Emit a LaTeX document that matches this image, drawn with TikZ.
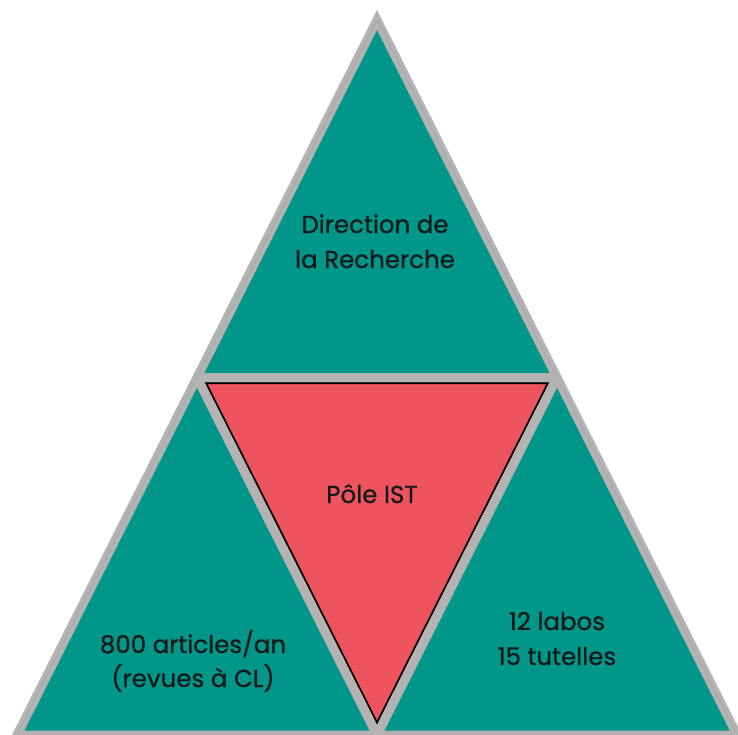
\documentclass[tikz,border=0pt]{standalone}
\usepackage{fontspec}
\setmainfont{Poppins}[FakeBold=0.8]
\definecolor{tealA}{HTML}{00968A}
\definecolor{redA}{HTML}{EE5360}
\definecolor{grayA}{HTML}{B4B2B3}
\definecolor{inkA}{HTML}{141A1A}
\begin{document}
\begin{tikzpicture}[x=1pt,y=-1pt,line join=miter,
  lbl/.style={font=\fontsize{24.5}{28}\selectfont,text=inkA,anchor=base,inner sep=0pt},
  edge/.style={draw=grayA,line width=9pt}]
\useasboundingbox (0,0) rectangle (738,734);
\coordinate (A) at (377,20);
\coordinate (B) at (17,735);
\coordinate (C) at (737,735);
\coordinate (AB) at (197,377.5);
\coordinate (AC) at (557,377.5);
\coordinate (BC) at (377,735);
\draw[grayA,line width=9pt,fill=grayA] (A)--(B)--(C)--cycle;
\fill[tealA] (A)--(AB)--(AC)--cycle;
\fill[tealA] (AB)--(B)--(BC)--cycle;
\fill[tealA] (AC)--(BC)--(C)--cycle;
\fill[redA] (AB)--(AC)--(BC)--cycle;
\begin{scope}
\clip (AB)--(AC)--(BC)--cycle;
\draw[black,line width=13pt] (AB)--(AC)--(BC)--cycle;
\end{scope}
\begin{scope}
\clip (A)--(B)--(C)--cycle;
\path[edge] (A)--(AB)--(AC)--cycle;
\path[edge] (AB)--(B)--(BC)--cycle;
\path[edge] (AC)--(BC)--(C)--cycle;
\path[edge] (AB)--(AC)--(BC)--cycle;
\end{scope}
\node[lbl] (d1) at (375,233) {Direction de};
\node[lbl] (d2) at (375,268) {la Recherche};
\node[lbl] (p) at (372,503) {Pôle IST};
\node[lbl] (a1) at (193,653) {800 articles/an};
\node[lbl] (a2) at (193,687) {(revues à CL)};
\node[lbl] (l1) at (557,630) {12 labos};
\node[lbl] (l2) at (557,665) {15 tutelles};
\end{tikzpicture}
\end{document}
